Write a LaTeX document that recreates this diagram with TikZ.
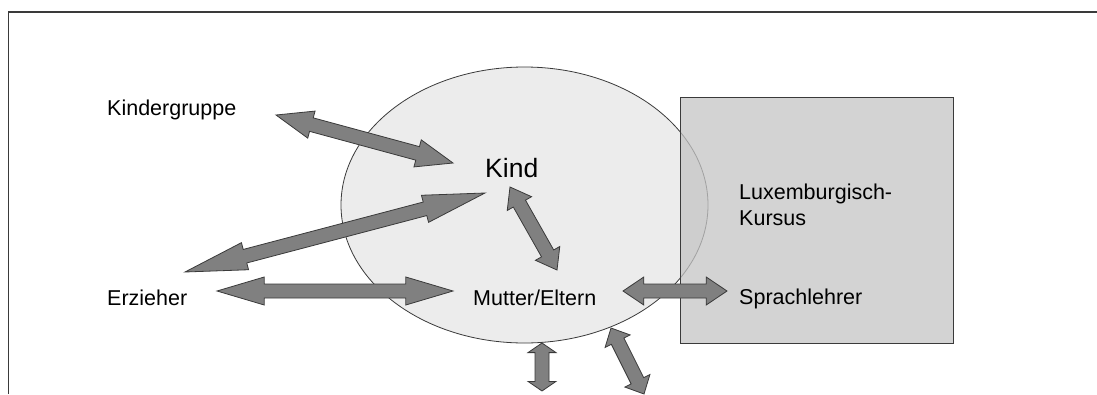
\documentclass[tikz,border=0pt]{standalone}
\usepackage{fontspec}
\setmainfont{Liberation Sans}
\usetikzlibrary{calc}

\definecolor{kreis}{HTML}{ECECEC}
\definecolor{kasten}{HTML}{C4C4C4}
\definecolor{pfeil}{HTML}{808080}
\definecolor{rand}{HTML}{3A3A3A}

% fat double arrow between two named coordinates
\newcommand{\dblarrow}[2]{%
  \filldraw[fatarrow] (#1)
    -- ($(#1)!0.2!(#2)!14pt!90:(#2)$) -- ($(#1)!0.2!(#2)!7pt!90:(#2)$)
    -- ($(#2)!0.2!(#1)!7pt!-90:(#1)$) -- ($(#2)!0.2!(#1)!14pt!-90:(#1)$)
    -- (#2)
    -- ($(#2)!0.2!(#1)!14pt!90:(#1)$) -- ($(#2)!0.2!(#1)!7pt!90:(#1)$)
    -- ($(#1)!0.2!(#2)!7pt!-90:(#2)$) -- ($(#1)!0.2!(#2)!14pt!-90:(#2)$)
    -- cycle;}

\begin{document}
\begin{tikzpicture}[x=1pt, y=-1pt,
    fatarrow/.style={fill=pfeil, draw=rand, line width=0.8pt, line join=miter},
    label/.style={inner sep=0pt, font=\fontsize{21.5}{26}\selectfont},
    big/.style={inner sep=0pt, font=\fontsize{26.5}{31}\selectfont}]
    \useasboundingbox (0,0) rectangle (1097,394);
    % frame
    \draw[line width=1.6pt, rand] (8.5,394) -- (8.5,12) -- (1097,12);
    % ellipse and course box
    \draw[fill=kreis, draw=rand, line width=0.8pt] (524.5,205) ellipse [x radius=183.5, y radius=138];
    \draw[fill=kasten, fill opacity=0.75, draw=rand, line width=1pt] (680,97) rectangle (953,343);
    % texts
    \node[label, anchor=base west] (kindergruppe) at (107,115) {Kindergruppe};
    \node[big, anchor=base west] (kind) at (485,177) {Kind};
    \node[label, anchor=north west, align=left] (kursus) at (739,183.5) {Luxemburgisch-\\Kursus};
    \node[label, anchor=base west] (erzieher) at (107,305) {Erzieher};
    \node[label, anchor=base west] (mutter) at (473,305) {Mutter/Eltern};
    \node[label, anchor=base west] (sprachlehrer) at (739,304) {Sprachlehrer};
    % arrow ends
    \coordinate (kg1) at (276,115);
    \coordinate (kg2) at (453,163);
    \coordinate (ez1) at (185,272);
    \coordinate (ez2) at (485,193);
    \coordinate (em1) at (217,291);
    \coordinate (em2) at (453,291);
    \coordinate (km1) at (510,187);
    \coordinate (km2) at (557,270);
    \coordinate (ms1) at (623,291);
    \coordinate (ms2) at (727,291);
    \coordinate (u1) at (542,343);
    \coordinate (u2) at (542,391);
    \coordinate (v1) at (611,328);
    \coordinate (v2) at (644,394);
    % arrows
    \dblarrow{kg1}{kg2}
    \dblarrow{ez1}{ez2}
    \dblarrow{em1}{em2}
    \dblarrow{km1}{km2}
    \dblarrow{ms1}{ms2}
    \dblarrow{u1}{u2}
    \dblarrow{v1}{v2}
\end{tikzpicture}
\end{document}
